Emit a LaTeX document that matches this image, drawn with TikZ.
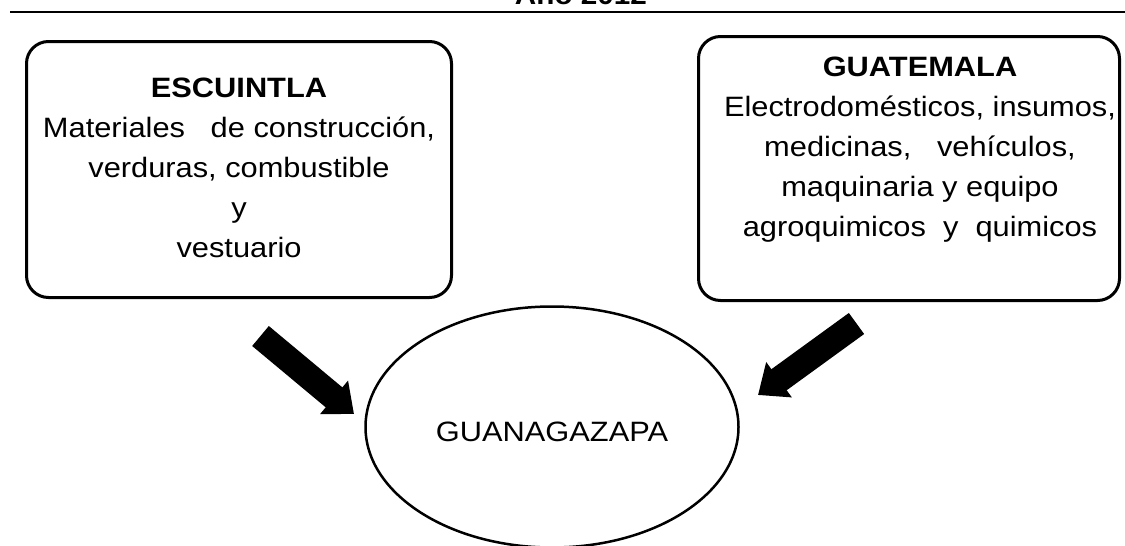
\documentclass[tikz,border=0pt]{standalone}
\usepackage{fontspec}
\setmainfont{Liberation Sans}[FakeStretch=1.1]
\usetikzlibrary{arrows.meta, positioning, shapes.geometric}
\tikzstyle{region} = [rectangle, rounded corners=22pt, draw=black, line width=3pt, inner sep=0pt]
\tikzstyle{goods}  = [align=center, inner sep=0pt, font=\fontsize{28}{40}\selectfont]
\tikzstyle{town}   = [ellipse, draw=black, line width=2.5pt, inner sep=0pt,
                      font=\fontsize{28}{34}\selectfont, text height=29pt, text depth=0pt]
\tikzstyle{flow}   = [line width=26pt, -{Triangle[length=26pt, width=42pt]}]

\begin{document}
\begin{tikzpicture}[x=1pt, y=-1pt]
  \useasboundingbox (0,0) rectangle (1125,546);

  % --- Title ---
  \node (title) [anchor=base, font=\bfseries\fontsize{27}{30}\selectfont] at (581,5) {Año 2012};
  \draw[line width=2pt] (10,12) -- (1125,12);

  % --- Origin boxes ---
  \node (esc) [region, minimum width=425pt, minimum height=256pt] at (239,169.5) {};
  \node (esc_txt) [goods, below=37.5pt of esc.north]
        {\textbf{ESCUINTLA}\\Materiales\ \ \ de construcción,\\verduras, combustible\\y\\vestuario};

  \node (gua) [region, minimum width=421pt, minimum height=264pt] at (909,168.5) {};
  \node (gua_txt) [goods, below=21.5pt of gua.north, xshift=11pt]
        {\textbf{GUATEMALA}\\Electrodomésticos, insumos,\\medicinas,\ \ \ vehículos,\\maquinaria y equipo\\agroquimicos\ \ y\ \ quimicos};

  % --- Destination ---
  \node (guana) [town, minimum width=373pt, minimum height=241pt] at (552,427) {GUANAGAZAPA};

  % Arrows
  \coordinate (esc_tail) at (260.5,336);
  \coordinate (esc_tip)  at (354,414);
  \coordinate (gua_tail) at (856.5,323.5);
  \coordinate (gua_tip)  at (758,395);
  \draw[flow] (esc_tail) -- (esc_tip);
  \draw[flow] (gua_tail) -- (gua_tip);

\end{tikzpicture}
\end{document}
